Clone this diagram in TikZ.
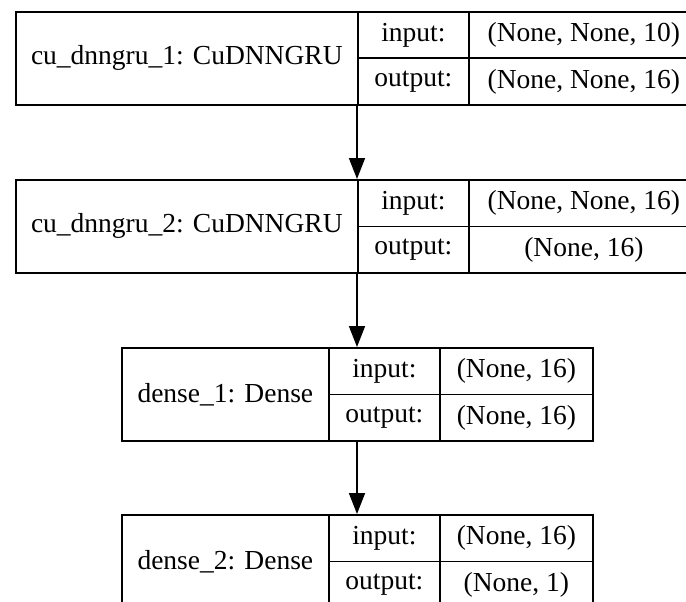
\documentclass[tikz,border=0pt]{standalone}
\usepackage{fontspec}
\setmainfont{Liberation Serif}
\usetikzlibrary{arrows.meta}
\begin{document}
\begin{tikzpicture}[x=1pt,y=-1pt,
  cell/.style={draw=black, line width=1.7pt, anchor=north west, inner sep=0pt,
    font=\fontsize{27.5}{31}\selectfont, minimum height=46.5pt},
  labelcell/.style={cell, minimum height=93pt},
  conn/.style={line width=1.7pt, -{Triangle[length=21pt,width=16pt]}}]
\useasboundingbox (0,0) rectangle (686,602);
\clip (0,0) rectangle (686,602);
\fill[white] (0,0) rectangle (686,602);
% box 1
\node[labelcell, minimum width=342pt] (l1) at (15,11) {cu\_dnngru\_1: CuDNNGRU};
\node[cell, minimum width=111pt] (i1) at (357,11) {input:};
\node[cell, minimum width=230pt] (vi1) at (468,11) {(None, None, 10)};
\node[cell, minimum width=111pt] (o1) at (357,57.5) {output:};
\node[cell, minimum width=230pt] (vo1) at (468,57.5) {(None, None, 16)};
% box 2
\node[labelcell, minimum width=342pt] (l2) at (15,179) {cu\_dnngru\_2: CuDNNGRU};
\node[cell, minimum width=111pt] (i2) at (357,179) {input:};
\node[cell, minimum width=230pt] (vi2) at (468,179) {(None, None, 16)};
\node[cell, minimum width=111pt] (o2) at (357,225.5) {output:};
\node[cell, minimum width=230pt] (vo2) at (468,225.5) {(None, 16)};
% box 3
\node[labelcell, minimum width=207pt] (l3) at (121,347) {dense\_1: Dense};
\node[cell, minimum width=111pt] (i3) at (328,347) {input:};
\node[cell, minimum width=153pt] (vi3) at (439,347) {(None, 16)};
\node[cell, minimum width=111pt] (o3) at (328,393.5) {output:};
\node[cell, minimum width=153pt] (vo3) at (439,393.5) {(None, 16)};
% box 4
\node[labelcell, minimum width=207pt] (l4) at (121,514) {dense\_2: Dense};
\node[cell, minimum width=111pt] (i4) at (328,514) {input:};
\node[cell, minimum width=153pt] (vi4) at (439,514) {(None, 16)};
\node[cell, minimum width=111pt] (o4) at (328,560.5) {output:};
\node[cell, minimum width=153pt] (vo4) at (439,560.5) {(None, 1)};
% connectors
\draw[conn] (o1.south west) -- (i2.north west);
\draw[conn] (o2.south west) -- (o2.south west |- i3.north);
\draw[conn] (o2.south west |- o3.south) -- (o2.south west |- i4.north);
\end{tikzpicture}
\end{document}
